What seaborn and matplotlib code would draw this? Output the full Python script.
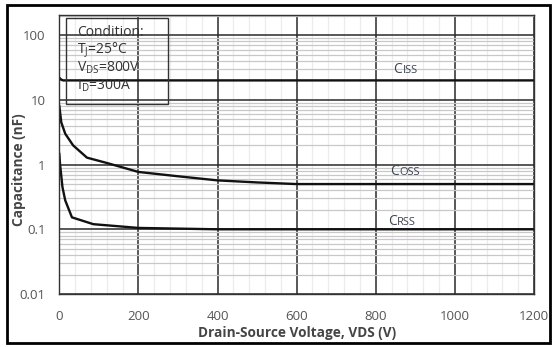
import numpy as np
import pandas as pd
import seaborn as sns
import matplotlib
matplotlib.use("Agg")
import matplotlib.pyplot as plt
from matplotlib.patches import Rectangle
from matplotlib.ticker import FixedLocator, MultipleLocator, NullFormatter

# Capacitance vs drain-source voltage (nF)
ciss_v = [0, 5, 10, 50, 200, 600, 1000, 1200]
ciss_c = [22.0, 20.5, 20.0, 20.0, 20.0, 20.0, 20.0, 20.0]

coss_v = [0, 5, 15, 35, 70, 120, 200, 300, 400, 500, 600, 800, 1000, 1200]
coss_c = [8.2, 4.5, 3.0, 1.98, 1.28, 1.06, 0.77, 0.66, 0.57, 0.53, 0.50, 0.50, 0.50, 0.50]

crss_v = [0, 2, 8, 15, 32, 86, 200, 400, 600, 800, 1000, 1200]
crss_c = [1.5, 1.0, 0.45, 0.28, 0.153, 0.12, 0.105, 0.10, 0.10, 0.10, 0.10, 0.10]

x_ticks = [0, 200, 400, 600, 800, 1000, 1200]
y_ticks = [0.01, 0.1, 1, 10, 100]
y_tick_labels = ["0.01", "0.1", "1", "10", "100"]

condition_lines = ["Condition:", r"T$_\mathregular{J}$=25°C",
                   r"V$_\mathregular{DS}$=800V", r"I$_\mathregular{D}$=300A"]
curve_labels = [("C", "ISS", 845, 31.6), ("C", "OSS", 837, 0.83), ("C", "RSS", 830, 0.14)]

sns.set_theme(style="white")
plt.rcParams["font.family"] = ["Open Sans", "DejaVu Sans"]
plt.rcParams["mathtext.fontset"] = "custom"
plt.rcParams["mathtext.rm"] = "Open Sans"

frames = []
for name, v, c in (("Ciss", ciss_v, ciss_c), ("Coss", coss_v, coss_c), ("Crss", crss_v, crss_c)):
    frames.append(pd.DataFrame({"V": v, "C": c, "curve": name}))
df = pd.concat(frames, ignore_index=True)

fig = plt.figure(figsize=(5.52, 3.47), dpi=100)
ax = fig.add_axes([0.1074, 0.1527, 0.8600, 0.8041])

ax.set_yscale("log")
ax.set_xlim(0, 1200)
ax.set_ylim(0.01, 205)

# grid: light minor lines, dark major lines
ax.xaxis.set_major_locator(FixedLocator(x_ticks))
ax.xaxis.set_minor_locator(MultipleLocator(40))
ax.yaxis.set_major_locator(FixedLocator(y_ticks))
ax.yaxis.set_minor_locator(FixedLocator(
    [m * 10.0 ** e for e in range(-2, 3) for m in range(2, 10)]))
ax.yaxis.set_minor_formatter(NullFormatter())
ax.grid(which="minor", axis="x", color="#ececec", linewidth=0.9)
ax.grid(which="minor", axis="y", color="#c8c8c8", linewidth=0.9)
ax.grid(which="major", color="#2a2a2a", linewidth=1.1)
ax.set_axisbelow(True)

sns.lineplot(data=df, x="V", y="C", units="curve", estimator=None,
             color="#111111", linewidth=1.7, ax=ax, legend=False, sort=False)

ax.set_yticks(y_ticks)
ax.set_yticklabels(y_tick_labels)
ax.set_xticks(x_ticks)
ax.tick_params(axis="both", which="both", length=0, labelsize=9.5,
               labelcolor="#555555")
ax.tick_params(axis="x", pad=11.5)
ax.tick_params(axis="y", pad=10)
for sp in ax.spines.values():
    sp.set_color("#333333")
    sp.set_linewidth(1.0)

ax.set_xlabel("Drain-Source Voltage, VDS (V)", fontsize=9.8, fontweight="bold",
              color="#444444", labelpad=2)
ax.set_ylabel("Capacitance (nF)", fontsize=9.8, fontweight="bold",
              color="#444444")
ax.yaxis.set_label_coords(-0.071, 0.445)

# curve labels in small-caps style, sharing one baseline
for big, small, xv, yv in curve_labels:
    ax.annotate(big, xy=(xv, yv), xytext=(0, -3.6), textcoords="offset points",
                fontsize=10, color="#3d4452", va="baseline", ha="left")
    ax.annotate(small, xy=(xv, yv), xytext=(6.4, -3.6), textcoords="offset points",
                fontsize=8, color="#3d4452", va="baseline", ha="left")

# test-condition box
fig.patches.append(Rectangle((66 / 552, 1 - 104 / 347), 102 / 552, 86 / 347,
                             transform=fig.transFigure, fill=False,
                             edgecolor="#333333", linewidth=1.0))
for i, line in enumerate(condition_lines):
    fig.text(77 / 552, 1 - (33 + i * 17.5) / 347, line, fontsize=10,
             color="#333333", va="center", ha="left")

# outer frame
fig.patches.append(Rectangle((7 / 552, 4 / 347), 543 / 552, 338 / 347,
                             transform=fig.transFigure, fill=False,
                             edgecolor="black", linewidth=2.0))

fig.savefig("out.png", dpi=100)
